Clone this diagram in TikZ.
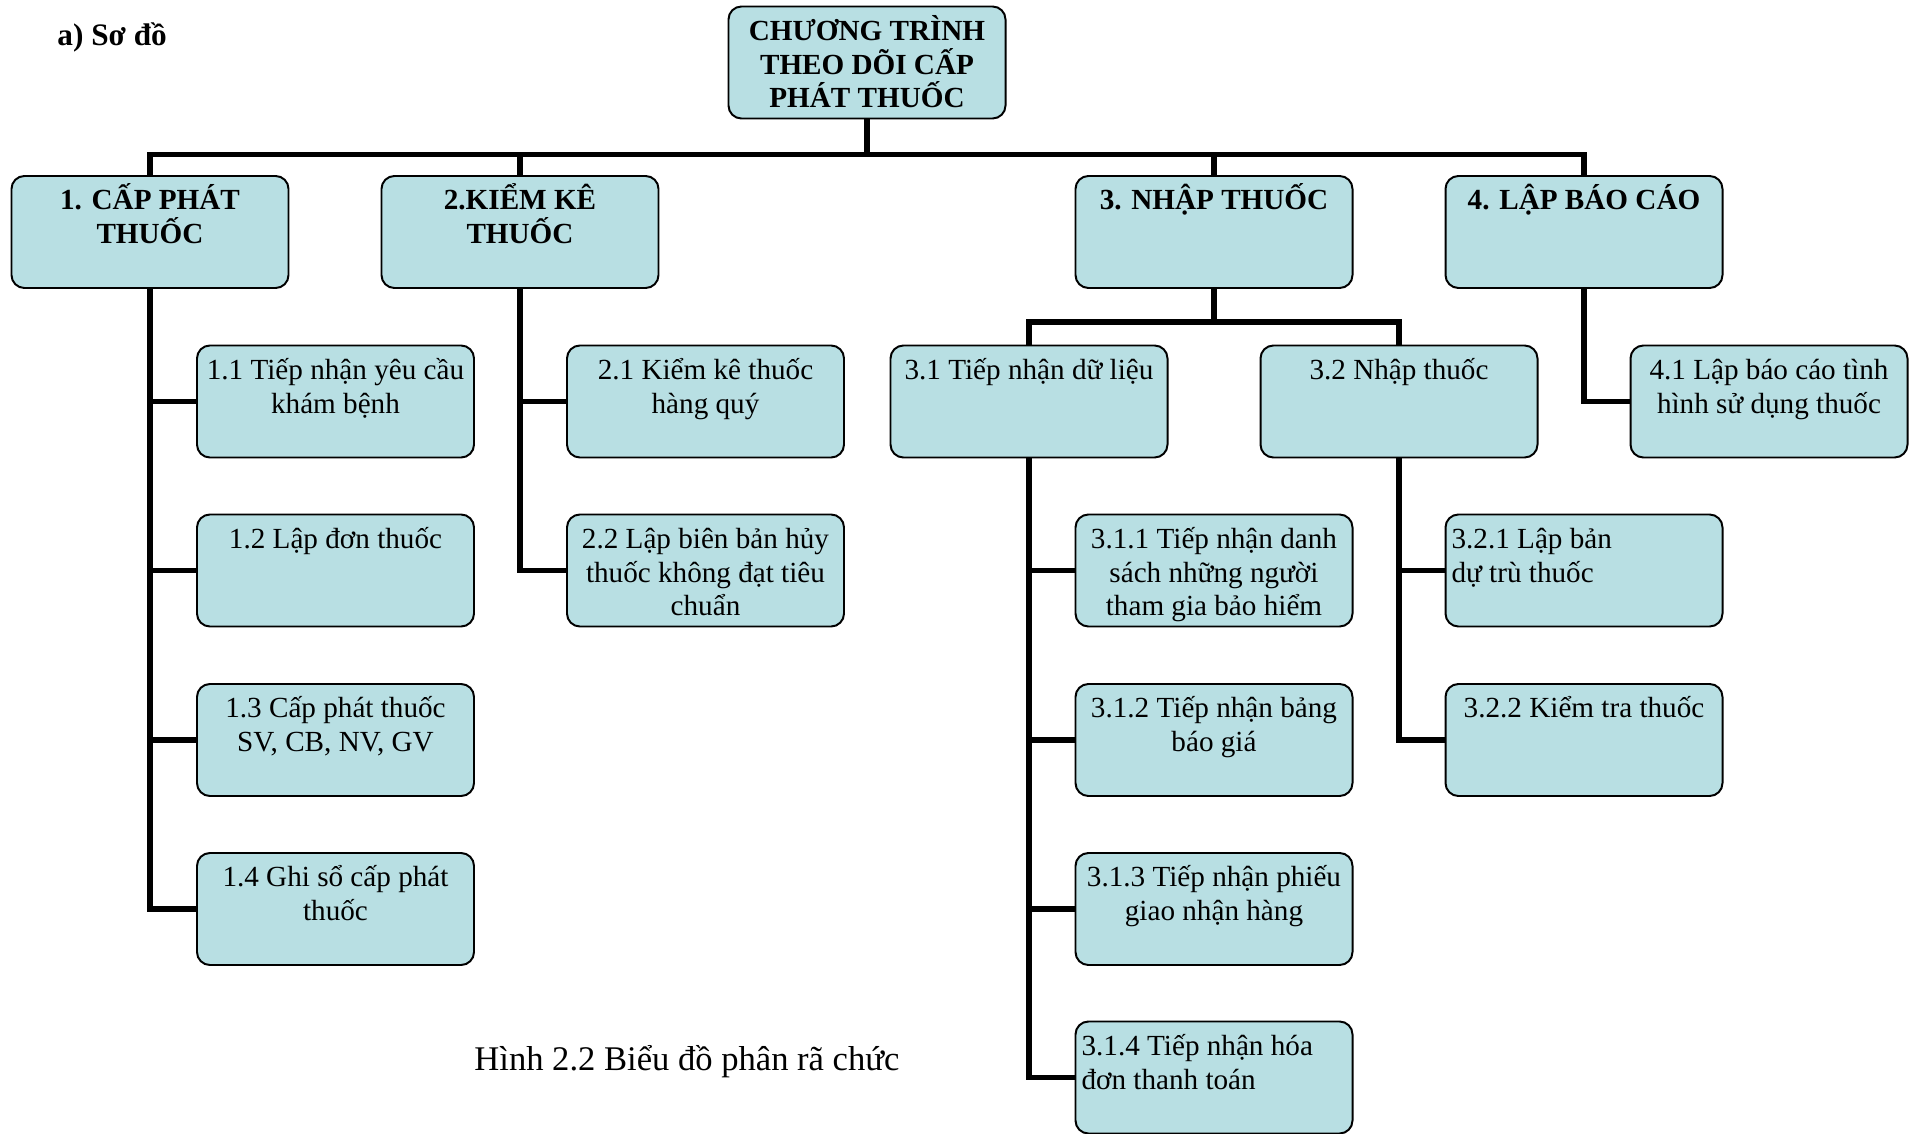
\documentclass[tikz,border=0pt]{standalone}
\usepackage{fontspec}
\setmainfont{Liberation Serif}

\definecolor{cellfill}{RGB}{184,223,227}

% every box has the same size; text starts at the top
\newlength\cellw \setlength\cellw{132.96pt}
\newlength\cellh \setlength\cellh{53.76pt}
\newcommand\cell[2][\centering]{%
  \parbox[c][\cellh][t]{\cellw}{#1\lineskiplimit=-20pt\rule{0pt}{16.3pt}#2}}

\tikzset{
  x=0.48pt, y=-0.48pt,
  cellbox/.style={draw=black, line width=0.95pt, fill=cellfill,
    rounded corners=6.2pt, inner sep=0pt,
    font=\fontsize{14}{16.2}\selectfont},
  headbox/.style={cellbox, font=\fontsize{14}{16.2}\selectfont\bfseries},
  conn/.style={line width=2.6pt, draw=black},
}

\begin{document}
\begin{tikzpicture}
\useasboundingbox (0,0) rectangle (1915,1134);

\node[font=\fontsize{15}{17}\selectfont\bfseries, anchor=base west, inner sep=0pt]
  (sect) at (57,46) {a) Sơ đồ};

% root and first level
\node[headbox] (root) at (867,62.5) {\cell{CHƯƠNG TRÌNH\\THEO DÕI CẤP\\PHÁT THUỐC}};
\node[headbox] (n1) at (150,232) {\cell{1. CẤP PHÁT\\THUỐC}};
\node[headbox] (n2) at (520,232) {\cell{2.KIỂM KÊ\\THUỐC}};
\node[headbox] (n3) at (1214,232) {\cell{3. NHẬP THUỐC}};
\node[headbox] (n4) at (1584,232) {\cell{4. LẬP BÁO CÁO}};

% second level
\node[cellbox] (n11) at (335.5,401.5) {\cell{1.1 Tiếp nhận yêu cầu\\khám bệnh}};
\node[cellbox] (n21) at (705.5,401.5) {\cell{2.1 Kiểm kê thuốc\\hàng quý}};
\node[cellbox] (n31) at (1029,401.5) {\cell{3.1 Tiếp nhận dữ liệu}};
\node[cellbox] (n32) at (1399,401.5) {\cell{3.2 Nhập thuốc}};
\node[cellbox] (n41) at (1769,401.5) {\cell{4.1 Lập báo cáo tình\\hình sử dụng thuốc}};

% branch 1
\node[cellbox] (n12) at (335.5,570.5) {\cell{1.2 Lập đơn thuốc}};
\node[cellbox] (n13) at (335.5,740) {\cell{1.3 Cấp phát thuốc\\SV, CB, NV, GV}};
\node[cellbox] (n14) at (335.5,909) {\cell{1.4 Ghi sổ cấp phát\\thuốc}};

% branch 2
\node[cellbox] (n22) at (705.5,570.5) {\cell{2.2 Lập biên bản hủy\\thuốc không đạt tiêu\\chuẩn}};

% branch 3.1
\node[cellbox] (n311) at (1214,570.5) {\cell{3.1.1 Tiếp nhận danh\\sách những người\\tham gia bảo hiểm}};
\node[cellbox] (n312) at (1214,740) {\cell{3.1.2 Tiếp nhận bảng\\báo giá}};
\node[cellbox] (n313) at (1214,909) {\cell{3.1.3 Tiếp nhận phiếu\\giao nhận hàng}};
\node[cellbox] (n314) at (1214,1077.5) {\cell[\raggedright\leftskip=2.9pt]{3.1.4 Tiếp nhận hóa\\đơn thanh toán}};

% branch 3.2
\node[cellbox] (n321) at (1584,570.5) {\cell[\raggedright\leftskip=2.9pt]{3.2.1 Lập bản\\dự trù thuốc}};
\node[cellbox] (n322) at (1584,740) {\cell{3.2.2 Kiểm tra thuốc}};

% caption
\node[font=\fontsize{16.6}{18}\selectfont, anchor=base west, inner sep=0pt]
  (caption) at (474,1070) {Hình 2.2 Biểu đồ phân rã chức};

% connectors: root bus
\foreach \c in {n1,n2,n3,n4}
  \draw[conn] (root.south) -- ++(0,35) -| (\c.north);

% trunks of the first level
\foreach \c in {n11,n12,n13,n14}
  \draw[conn] (n1.south) |- (\c.west);
\foreach \c in {n21,n22}
  \draw[conn] (n2.south) |- (\c.west);
\foreach \c in {n31,n32}
  \draw[conn] (n3.south) -- ++(0,33) -| (\c.north);
\draw[conn] (n4.south) |- (n41.west);

% trunks of the second level
\foreach \c in {n311,n312,n313,n314}
  \draw[conn] (n31.south) |- (\c.west);
\foreach \c in {n321,n322}
  \draw[conn] (n32.south) |- (\c.west);
\end{tikzpicture}
\end{document}
